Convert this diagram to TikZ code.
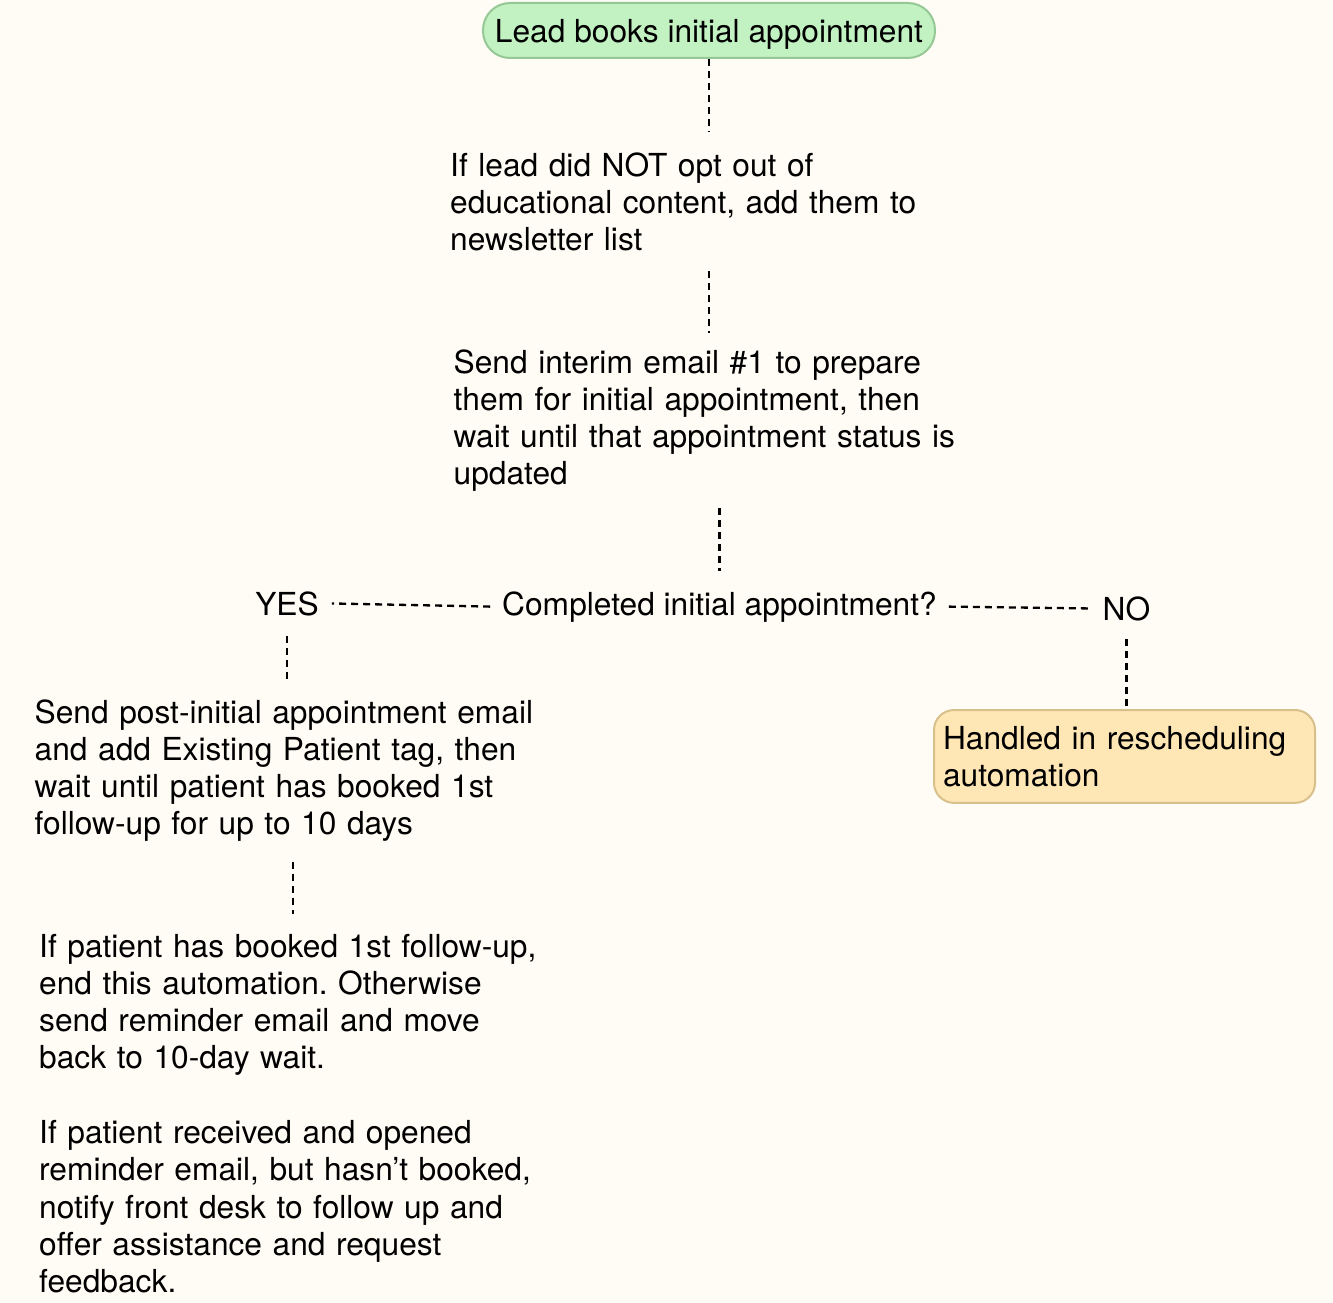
\documentclass[tikz,border=0pt]{standalone}
\usepackage{fontspec}
\setmainfont{TeX Gyre Heros}
\usepackage{xcolor}
\usepackage{tikz}
\usetikzlibrary{positioning, calc}
\definecolor{bgcream}{RGB}{255, 252, 245}
\definecolor{startgreen}{RGB}{194, 241, 194}
\definecolor{startborder}{RGB}{150, 200, 150}
\definecolor{waitorange}{RGB}{255, 230, 181}
\definecolor{waitborder}{RGB}{216, 192, 140}
\frenchspacing

\tikzset{
    flowfont/.style={font=\fontsize{31.7}{37.3}\selectfont},
    flowtext/.style={flowfont, align=left, inner xsep=0pt, inner ysep=20pt, anchor=base west},
    choice/.style={flowfont, inner xsep=13pt, inner ysep=20pt, anchor=base},
    link/.style={draw=black, line width=2.3pt, dash pattern=on 7pt off 5pt},
}

\begin{document}
\begin{tikzpicture}[x=1pt, y=-1pt]
    \fill[bgcream] (0,0) rectangle (1333,1303);
    \useasboundingbox (0,0) rectangle (1333,1303);

    \node[flowfont, fill=startgreen, draw=startborder, line width=2pt, rounded corners=27pt,
          inner xsep=12pt, inner ysep=0pt, text depth=0pt, minimum height=55pt] (start) at (709,30.5)
          {Lead books initial appointment};

    \node[flowtext, text width=480pt] (newsletter) at (450,176) {
        If lead did NOT opt out of\\
        educational content, add them to\\
        newsletter list};

    \node[flowtext, text width=520pt, inner ysep=16pt] (interim) at (453.5,373) {
        Send interim email \#1 to prepare\\
        them for initial appointment, then\\
        wait until that appointment status is\\
        updated};

    \node[choice, inner xsep=12pt] (decision) at (719.5,615) {Completed initial appointment?};
    \node[choice] (yes) at (287,615) {YES};
    \node[choice, inner ysep=18pt] (no) at (1126.5,620) {NO};

    \node[flowtext, text width=520pt] (followup) at (34.5,723) {
        Send post-initial appointment email\\
        and add Existing Patient tag, then\\
        wait until patient has booked 1st\\
        follow-up for up to 10 days};

    \node[flowtext, text width=520pt] (reminder) at (39,957) {
        If patient has booked 1st follow-up,\\
        end this automation. Otherwise\\
        send reminder email and move\\
        back to 10-day wait.\\[37.3pt]
        If patient received and opened\\
        reminder email, but hasn’t booked,\\
        notify front desk to follow up and\\
        offer assistance and request\\
        feedback.};

    \node[flowfont, fill=waitorange, draw=waitborder, line width=2pt, rounded corners=20pt,
          text width=363pt, align=left, inner xsep=9pt, inner ysep=16pt, anchor=north west]
          (handled) at (933,709) {Handled in rescheduling\\ automation};

    % connectors
    \draw[link] (start.south) -- (start.south |- newsletter.north);
    \draw[link] (start.south |- newsletter.south) -- (start.south |- interim.north);
    \draw[link] (decision.north |- interim.south) -- (decision.north);
    \draw[link] (decision.west) -- (yes.east);
    \draw[link] (decision.east) -- (no.west);
    \draw[link] (no.south) -- (no.south |- handled.north);
    \draw[link] (yes.south) -- (yes.south |- followup.north);
    \draw[link] ([xshift=6pt]yes.south |- followup.south) -- ([xshift=6pt]yes.south |- reminder.north);
\end{tikzpicture}
\end{document}
